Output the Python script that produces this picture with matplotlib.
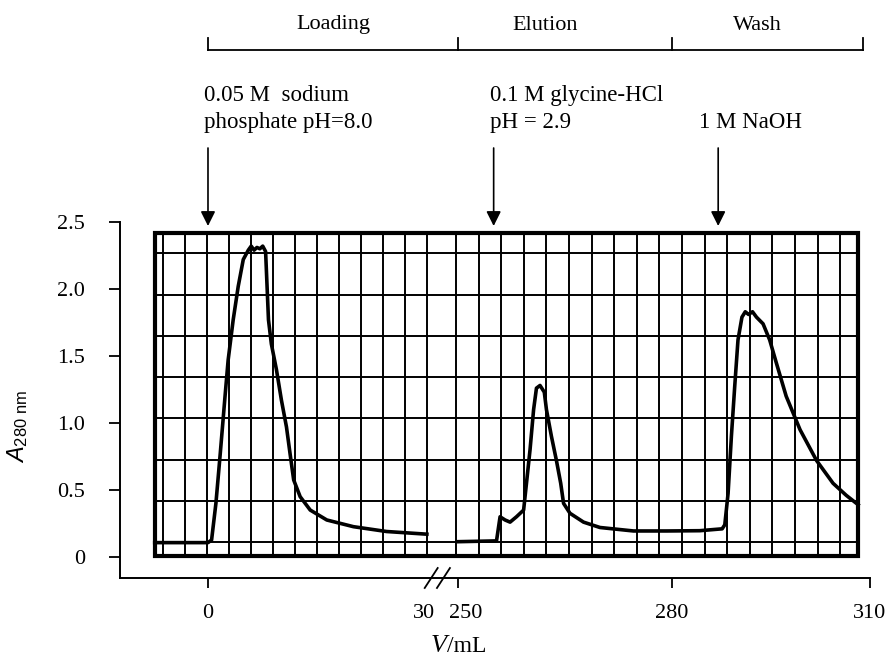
import numpy as np
import matplotlib.pyplot as plt
from matplotlib.patches import Rectangle
import matplotlib.transforms as mtransforms

plt.rcParams['font.family'] = ['Liberation Serif', 'DejaVu Serif']
plt.rcParams['mathtext.fontset'] = 'custom'
plt.rcParams['mathtext.rm'] = 'Liberation Sans'
plt.rcParams['mathtext.it'] = 'Liberation Sans:italic'

# A280 trace, loading part (V in mL)
v_load = [-7.4, 0.0, 0.5, 1.1, 1.7, 2.4, 2.8, 3.5, 4.2, 4.9, 5.6, 6.0, 6.4,
          6.8, 7.2, 7.6, 8.0, 8.4, 8.8, 9.5, 10.2, 10.9, 11.4, 11.9, 12.8,
          14.2, 16.5, 20.2, 24.8, 30.4]
a_load = [0.107, 0.107, 0.127, 0.40, 0.77, 1.22, 1.47, 1.77, 2.02, 2.22, 2.29,
          2.32, 2.29, 2.31, 2.30, 2.32, 2.28, 1.77, 1.59, 1.40, 1.17, 0.97,
          0.77, 0.575, 0.45, 0.35, 0.276, 0.226, 0.19, 0.17]

# elution + wash part
v_elu = [249.9, 255.4, 255.9, 256.6, 257.3, 258.2, 259.2, 259.6, 260.1, 260.6,
         261.0, 261.5, 262.1, 262.4, 263.1, 263.8, 264.4, 264.8, 265.7, 267.6,
         269.9, 274.6, 279.3, 284.2, 287.6, 288.0, 288.5, 289.0, 289.5, 290.0,
         290.6, 291.1, 291.6, 292.2, 292.8, 293.8, 294.8, 295.8, 297.3, 299.4,
         301.9, 304.4, 306.4, 308.2]
a_elu = [0.114, 0.12, 0.30, 0.276, 0.26, 0.30, 0.35, 0.55, 0.80, 1.10,
         1.26, 1.28, 1.23, 1.10, 0.90, 0.72, 0.55, 0.40, 0.326, 0.26,
         0.22, 0.194, 0.194, 0.196, 0.21, 0.24, 0.475, 0.90, 1.27, 1.62,
         1.79, 1.83, 1.81, 1.83, 1.79, 1.74, 1.62, 1.45, 1.20, 0.95,
         0.72, 0.55, 0.46, 0.39]

x_ticks = [0, 30, 250, 280, 310]
y_ticks = [0, 0.5, 1.0, 1.5, 2.0, 2.5]
y_ticklabels = ['0', '0.5', '1.0', '1.5', '2.0', '2.5']

phases = ['Loading', 'Elution', 'Wash']
phase_edges = [0, 250, 280, 309]
phase_label_v = [None, 262.2, 292.9]

buffers = [['0.05 M  sodium', 'phosphate pH=8.0'],
           ['0.1 M glycine-HCl', 'pH = 2.9'],
           ['1 M NaOH']]
buffer_v = [0, 255, 287]

# broken axis: 0..30 mL drawn as is, 250..310 squeezed after the gap
RIGHT_V = [250, 280, 310]
RIGHT_U = [34.72, 64.44, 91.94]


def to_u(v):
    v = np.asarray(v, dtype=float)
    return np.where(v <= 100, v, np.interp(v, RIGHT_V, RIGHT_U))


W, H = 889, 660
fig = plt.figure(figsize=(W / 100, H / 100), dpi=100)
ax = fig.add_axes([120 / W, 82 / H, 750 / W, 356 / H])
ax.set_xlim(-12.22, 91.94)
ax.set_ylim(-0.157, 2.5)

# chart paper
cols_left = -6.29 + 3.056 * np.arange(13)
cols_right = 34.44 + 3.139 * np.arange(18)
rows = 0.11 + 0.308 * np.arange(8)
y0, y1 = 0.0075, 2.418
x0, x1 = -7.36, 90.28
ax.vlines(np.r_[cols_left, cols_right], y0, y1, color='black', lw=1.4, zorder=1)
ax.hlines(rows, x0, x1, color='black', lw=1.4, zorder=1)
ax.add_patch(Rectangle((x0, y0), x1 - x0, y1 - y0, fill=False, lw=3.0,
                       ec='black', zorder=2))

ax.plot(to_u(v_load), a_load, color='black', lw=2.6, zorder=3,
        solid_joinstyle='round')
ax.plot(to_u(v_elu), a_elu, color='black', lw=2.6, zorder=3,
        solid_joinstyle='round')

for s in ['top', 'right']:
    ax.spines[s].set_visible(False)
ax.spines['left'].set_linewidth(1.4)
ax.spines['bottom'].set_linewidth(1.4)

ax.set_xticks(to_u(x_ticks))
ax.set_xticklabels([str(t) for t in x_ticks])
ax.set_yticks(y_ticks)
ax.set_yticklabels(y_ticklabels)
ax.tick_params(axis='x', direction='out', length=7, width=1.3, pad=12,
               labelsize=16)
ax.tick_params(axis='y', direction='out', length=8, width=1.3, pad=17,
               labelsize=16)
ax.xaxis.get_major_ticks()[1].tick1line.set_visible(False)
lbl250 = ax.get_xticklabels()[2]
lbl250.set_transform(lbl250.get_transform()
                     + mtransforms.ScaledTranslation(0.08, 0, fig.dpi_scale_trans))

# break marks on the x axis
bt = mtransforms.blended_transform_factory(ax.transData, ax.transAxes)
for uc in [31.0, 32.7]:
    ax.plot([uc - 0.9, uc + 0.9], [-0.028, 0.028], color='black', lw=1.3,
            transform=bt, clip_on=False)

# axis labels
fig.text(18 / W, 1 - 427 / H, r'$\mathit{A}_{\mathrm{280\ nm}}$', rotation=90,
         ha='center', va='center', fontsize=17)
fig.text(447 / W, 1 - 646 / H, 'V', style='italic', ha='right', va='center',
         fontsize=19)
fig.text(447 / W, 1 - 646 / H, '/mL', ha='left', va='center', fontsize=17)

# phase bracket at top
ft = mtransforms.blended_transform_factory(ax.transData, fig.transFigure)
ue = to_u(phase_edges)
ax.plot([ue[0], ue[-1]], [1 - 50 / H, 1 - 50 / H], color='black', lw=1.3,
        transform=ft, clip_on=False)
for u in ue:
    ax.plot([u, u], [1 - 50 / H, 1 - 38 / H], color='black', lw=1.3,
            transform=ft, clip_on=False)
for i, name in enumerate(phases):
    if phase_label_v[i] is None:
        xc = (ue[i] + ue[i + 1]) / 2
    else:
        xc = to_u(phase_label_v[i])
    ax.text(xc, 1 - 25 / H, name, transform=ft, ha='center', va='center',
            fontsize=16)

# buffer changes
for lines, v in zip(buffers, buffer_v):
    u = float(to_u(v))
    ax.annotate('', xy=(u, 1 - 226 / H), xytext=(u, 1 - 148 / H),
                xycoords=('data', 'figure fraction'),
                textcoords=('data', 'figure fraction'),
                arrowprops=dict(arrowstyle='-|>', color='black', lw=1.2,
                                mutation_scale=22, shrinkA=0, shrinkB=0))
    xt = u - 0.5 if len(lines) > 1 else u - 2.6
    for k, line in enumerate(reversed(lines)):
        ax.text(xt, 1 - (128 - 27 * k) / H, line, transform=ft, ha='left',
                va='baseline', fontsize=16.5)

fig.savefig('out.png', dpi=100)
